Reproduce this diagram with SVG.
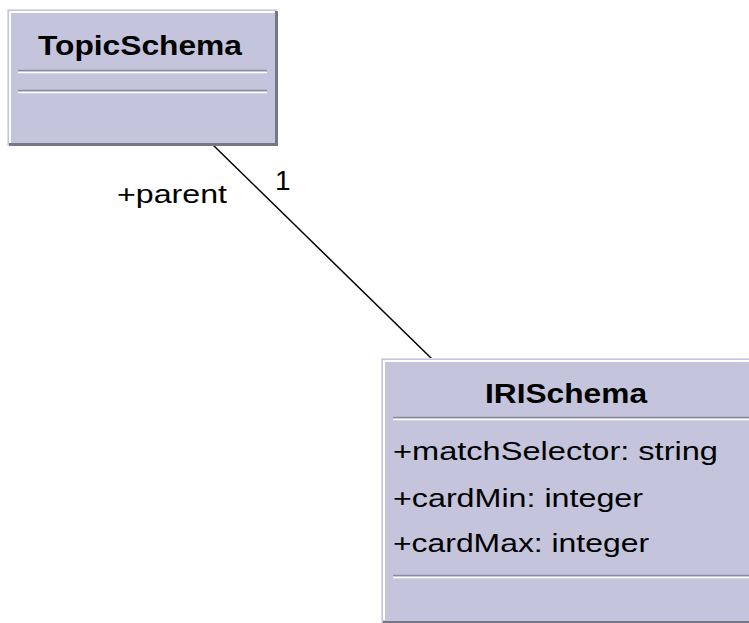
<svg xmlns="http://www.w3.org/2000/svg" width="749" height="623" viewBox="0 0 749 623">
<style>
.box{fill:#c4c4dc;stroke:#dcdcea;stroke-width:1}
.hl{stroke:#ffffff;stroke-width:2;fill:none}
.sh{stroke:#767684;stroke-width:3;fill:none}
.sepd{stroke:#8a8aa0;stroke-width:1.5}
.sepl{stroke:#ffffff;stroke-width:1.5}
.title{font-family:"Liberation Sans",Arial,sans-serif;font-weight:bold;font-size:27px;fill:#000}
.attr{font-family:"Liberation Sans",Arial,sans-serif;font-size:25px;fill:#000}
.lbl{font-family:"Liberation Sans",Arial,sans-serif;font-size:25px;fill:#000}
.conn{stroke:#000;stroke-width:1.5;fill:none}
</style>
<rect width="749" height="623" fill="#ffffff"/>
<g id="connectors">
<line class="conn" x1="212" y1="144" x2="432" y2="359"/>
<text class="lbl" x="117" y="203" textLength="110" lengthAdjust="spacingAndGlyphs">+parent</text>
<text class="lbl" x="275" y="190" style="font-size:28px">1</text>
</g>
<g id="TopicSchema">
<rect class="box" x="7.5" y="9.5" width="269" height="136"/>
<polyline class="hl" points="10,144 10,12 275,12"/>
<polyline class="sh" points="9,144.5 276.5,144.5 276.5,11"/>
<line class="sepd" x1="18" y1="70.5" x2="267" y2="70.5"/>
<line class="sepl" x1="18" y1="72.5" x2="267" y2="72.5"/>
<line class="sepd" x1="18" y1="90.5" x2="267" y2="90.5"/>
<line class="sepl" x1="18" y1="92.5" x2="267" y2="92.5"/>
<text class="title" x="38" y="55" textLength="204" lengthAdjust="spacingAndGlyphs">TopicSchema</text>
</g>
<g id="IRISchema">
<rect class="box" x="381.5" y="358.5" width="368" height="265"/>
<polyline class="hl" points="384,620 384,361 749,361"/>
<line x1="383" y1="622" x2="749" y2="622" stroke="#767684" stroke-width="2"/>
<line class="sepd" x1="393" y1="417.5" x2="749" y2="417.5"/>
<line class="sepl" x1="393" y1="419.5" x2="749" y2="419.5"/>
<line class="sepd" x1="393" y1="575.5" x2="749" y2="575.5"/>
<line class="sepl" x1="393" y1="577.5" x2="749" y2="577.5"/>
<text class="title" x="485" y="403" textLength="162" lengthAdjust="spacingAndGlyphs">IRISchema</text>
<text class="attr" x="393" y="460" textLength="325" lengthAdjust="spacingAndGlyphs">+matchSelector: string</text>
<text class="attr" x="393" y="507" textLength="250" lengthAdjust="spacingAndGlyphs">+cardMin: integer</text>
<text class="attr" x="393" y="552" textLength="256" lengthAdjust="spacingAndGlyphs">+cardMax: integer</text>
</g>
</svg>
